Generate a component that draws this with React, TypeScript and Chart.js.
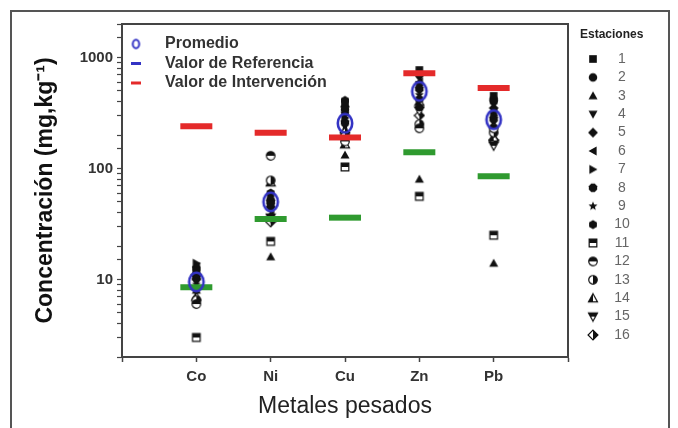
import React, { useEffect, useRef } from 'react';
import { Chart, registerables } from 'chart.js';
Chart.register(...registerables);

const metals = ['Co', 'Ni', 'Cu', 'Zn', 'Pb'];
const stations = ['1', '2', '3', '4', '5', '6', '7', '8', '9', '10', '11', '12', '13', '14', '15', '16'];
// values per station (1..16) for each metal
const coValues = [12, 11, 8, 9.5, 10, 13, 14, 10.5, 9, 12.5, 3, 6, 6.5, 7, 8, 11];
const niValues = [48, 52, 16, 42, 45, 38, 56, 50, 47, 60, 22, 130, 78, 75, 36, 33];
const cuValues = [390, 340, 132, 300, 360, 320, 285, 260, 240, 410, 103, 175, 195, 165, 185, 210];
const znValues = [770, 700, 80, 650, 360, 600, 560, 520, 460, 420, 56, 230, 250, 400, 330, 300];
const pbValues = [450, 420, 14, 380, 350, 320, 300, 280, 260, 400, 25, 230, 210, 190, 160, 180];
const promedio = [9.5, 50, 255, 495, 275];
const referencia = [8.5, 35, 36, 140, 85];
const intervencion = [240, 210, 190, 720, 530];
const yTickLabels = [10, 100, 1000];
const legendLabels = ['Promedio', 'Valor de Referencia', 'Valor de Intervención'];

const markerKinds = [
  'square', 'circle', 'triangle', 'triangleDown', 'diamond', 'triangleLeft', 'triangleRight', 'octagon',
  'star', 'hexagon', 'halfSquare', 'halfCircleTop', 'halfCircleRight', 'halfTriangle', 'halfTriangleDown', 'halfDiamond',
];

const FONT = '"Liberation Sans", Arial, Helvetica, sans-serif';
const BLUE = '#3333c4';
const RED = '#e42a2a';
const GREEN = '#2f9a2f';

function polygon(ctx: CanvasRenderingContext2D, c: number, r: number, n: number, start: number) {
  for (let i = 0; i < n; i++) {
    const a = start + (i * 2 * Math.PI) / n;
    const px = c + r * Math.cos(a);
    const py = c + r * Math.sin(a);
    if (i === 0) ctx.moveTo(px, py);
    else ctx.lineTo(px, py);
  }
  ctx.closePath();
}

function shapePath(ctx: CanvasRenderingContext2D, base: string, c: number, r: number) {
  ctx.beginPath();
  switch (base) {
    case 'square':
      ctx.rect(c - r * 0.85, c - r * 0.85, r * 1.7, r * 1.7);
      break;
    case 'circle':
      ctx.arc(c, c, r * 0.95, 0, Math.PI * 2);
      break;
    case 'triangle':
      ctx.moveTo(c, c - r);
      ctx.lineTo(c + r, c + r * 0.8);
      ctx.lineTo(c - r, c + r * 0.8);
      ctx.closePath();
      break;
    case 'triangleDown':
      ctx.moveTo(c, c + r);
      ctx.lineTo(c + r, c - r * 0.8);
      ctx.lineTo(c - r, c - r * 0.8);
      ctx.closePath();
      break;
    case 'triangleLeft':
      ctx.moveTo(c - r, c);
      ctx.lineTo(c + r * 0.8, c - r);
      ctx.lineTo(c + r * 0.8, c + r);
      ctx.closePath();
      break;
    case 'triangleRight':
      ctx.moveTo(c + r, c);
      ctx.lineTo(c - r * 0.8, c - r);
      ctx.lineTo(c - r * 0.8, c + r);
      ctx.closePath();
      break;
    case 'diamond':
      ctx.moveTo(c, c - r * 1.1);
      ctx.lineTo(c + r * 1.1, c);
      ctx.lineTo(c, c + r * 1.1);
      ctx.lineTo(c - r * 1.1, c);
      ctx.closePath();
      break;
    case 'octagon':
      polygon(ctx, c, r, 8, Math.PI / 8);
      break;
    case 'hexagon':
      polygon(ctx, c, r, 6, Math.PI / 6);
      break;
    case 'star': {
      for (let i = 0; i < 10; i++) {
        const a = -Math.PI / 2 + (i * Math.PI) / 5;
        const rr = i % 2 === 0 ? r * 1.05 : r * 0.45;
        const px = c + rr * Math.cos(a);
        const py = c + rr * Math.sin(a);
        if (i === 0) ctx.moveTo(px, py);
        else ctx.lineTo(px, py);
      }
      ctx.closePath();
      break;
    }
  }
}

function makeMarker(kind: string): HTMLCanvasElement {
  const S = 12;
  const c = S / 2;
  const r = 4.5;
  const cv = document.createElement('canvas');
  cv.width = S;
  cv.height = S;
  const ctx = cv.getContext('2d')!;
  const halfMap: Record<string, [string, string]> = {
    halfSquare: ['square', 'top'],
    halfCircleTop: ['circle', 'top'],
    halfCircleRight: ['circle', 'right'],
    halfTriangle: ['triangle', 'left'],
    halfTriangleDown: ['triangleDown', 'top'],
    halfDiamond: ['diamond', 'right'],
  };
  if (halfMap[kind]) {
    const [base, side] = halfMap[kind];
    shapePath(ctx, base, c, r);
    ctx.fillStyle = '#ffffff';
    ctx.fill();
    ctx.save();
    ctx.beginPath();
    if (side === 'top') ctx.rect(0, 0, S, c);
    else if (side === 'right') ctx.rect(c, 0, S, S);
    else ctx.rect(0, 0, c, S);
    ctx.clip();
    shapePath(ctx, base, c, r);
    ctx.fillStyle = '#111';
    ctx.fill();
    ctx.restore();
    shapePath(ctx, base, c, r);
    ctx.strokeStyle = '#111';
    ctx.lineWidth = 1.2;
    ctx.stroke();
  } else {
    shapePath(ctx, kind, c, r);
    ctx.fillStyle = '#111';
    ctx.fill();
  }
  return cv;
}

function makeRing(rx: number, ry: number, lw: number): HTMLCanvasElement {
  const cv = document.createElement('canvas');
  cv.width = Math.ceil(rx * 2 + lw * 2 + 2);
  cv.height = Math.ceil(ry * 2 + lw * 2 + 2);
  const ctx = cv.getContext('2d')!;
  ctx.beginPath();
  ctx.ellipse(cv.width / 2, cv.height / 2, rx, ry, 0, 0, Math.PI * 2);
  ctx.strokeStyle = BLUE;
  ctx.lineWidth = lw;
  ctx.stroke();
  return cv;
}

export default function App() {
  const ref = useRef<HTMLCanvasElement>(null);

  useEffect(() => {
    const canvas = ref.current;
    if (!canvas) return;
    const markers = markerKinds.map((k) => makeMarker(k));
    const bigRing = makeRing(7.2, 9.2, 2.6);
    const smallRing = makeRing(3.2, 4.2, 2);
    const valuesByMetal = [coValues, niValues, cuValues, znValues, pbValues];

    const stationSets = stations.map((s, si) => ({
      label: s,
      data: metals.map((m, mi) => ({ x: mi + 1, y: valuesByMetal[mi][si] })),
      pointStyle: markers[si],
      pointRadius: 4,
      showLine: false,
    }));

    const overlay = {
      id: 'overlay',
      beforeDraw(chart: any) {
        const ctx = chart.ctx as CanvasRenderingContext2D;
        ctx.save();
        ctx.fillStyle = '#ffffff';
        ctx.fillRect(0, 0, chart.width, chart.height);
        ctx.strokeStyle = '#555';
        ctx.lineWidth = 2;
        ctx.strokeRect(11, 11, 658, 440);
        ctx.restore();
      },
      afterDraw(chart: any) {
        const ctx = chart.ctx as CanvasRenderingContext2D;
        const a = chart.chartArea;
        ctx.save();
        // top and right frame of plot
        ctx.strokeStyle = '#444';
        ctx.lineWidth = 2;
        ctx.beginPath();
        ctx.moveTo(a.left, a.top);
        ctx.lineTo(a.right, a.top);
        ctx.lineTo(a.right, a.bottom);
        ctx.stroke();

        // top-left legend
        const lx = a.left + 14;
        const ly = a.top + 20;
        const gap = 19.5;
        ctx.drawImage(smallRing, lx - smallRing.width / 2, ly - smallRing.height / 2);
        ctx.lineWidth = 3;
        ctx.strokeStyle = BLUE;
        ctx.beginPath();
        ctx.moveTo(lx - 5, ly + gap);
        ctx.lineTo(lx + 5, ly + gap);
        ctx.stroke();
        ctx.strokeStyle = RED;
        ctx.beginPath();
        ctx.moveTo(lx - 5, ly + gap * 2);
        ctx.lineTo(lx + 5, ly + gap * 2);
        ctx.stroke();
        ctx.fillStyle = '#333';
        ctx.font = `bold 16px ${FONT}`;
        ctx.textAlign = 'left';
        ctx.textBaseline = 'middle';
        legendLabels.forEach((t, i) => ctx.fillText(t, lx + 29, ly + gap * i));

        // right legend
        const rx = a.right + 12;
        ctx.font = `bold 12px ${FONT}`;
        ctx.fillStyle = '#222';
        ctx.fillText('Estaciones', rx, a.top + 11);
        ctx.font = `14px ${FONT}`;
        ctx.fillStyle = '#666';
        ctx.textAlign = 'center';
        stations.forEach((s, i) => {
          const y = a.top + 35 + i * 18.4;
          const mk = markers[i];
          ctx.drawImage(mk, rx + 13 - mk.width / 2, y - mk.height / 2);
          ctx.fillText(s, rx + 42, y);
        });
        ctx.restore();
      },
    };

    const chart = new Chart(canvas, {
      type: 'scatter',
      data: {
        datasets: [
          {
            label: legendLabels[0],
            data: metals.map((m, i) => ({ x: i + 1, y: promedio[i] })),
            pointStyle: bigRing,
            pointRadius: 4,
          },
          {
            label: legendLabels[1],
            data: metals.map((m, i) => ({ x: i + 1, y: referencia[i] })),
            pointStyle: 'line',
            pointRadius: 16,
            pointBorderColor: GREEN,
            pointBorderWidth: 6,
          },
          {
            label: legendLabels[2],
            data: metals.map((m, i) => ({ x: i + 1, y: intervencion[i] })),
            pointStyle: 'line',
            pointRadius: 16,
            pointBorderColor: RED,
            pointBorderWidth: 6,
          },
          ...stationSets,
        ] as any,
      },
      options: {
        responsive: false,
        animation: false,
        devicePixelRatio: 1,
        layout: { padding: { left: 10, right: 110, top: 24, bottom: 0 } },
        plugins: { legend: { display: false }, tooltip: { enabled: false } },
        scales: {
          x: {
            type: 'linear',
            min: 0,
            max: 6,
            afterBuildTicks: (s: any) => {
              s.ticks = [0, 1, 2, 3, 4, 5, 6].map((v) => ({ value: v }));
            },
            afterFit: (s: any) => {
              s.height = 71;
            },
            ticks: {
              autoSkip: false,
              maxRotation: 0,
              padding: 6,
              color: '#333',
              font: { family: FONT, size: 15, weight: 'bold' },
              callback: (v: any) => metals[Math.round(v) - 1] ?? '',
            },
            grid: { drawOnChartArea: false, tickLength: 5, color: '#444', tickWidth: 1.5 },
            border: { color: '#444', width: 2 },
            title: {
              display: true,
              text: 'Metales pesados',
              color: '#222',
              font: { family: FONT, size: 23, weight: 'normal' },
              padding: { top: 0, bottom: 8 },
            },
          },
          y: {
            type: 'logarithmic',
            min: 2,
            max: 2000,
            afterFit: (s: any) => {
              s.width = 112;
            },
            ticks: {
              autoSkip: false,
              padding: 4,
              color: '#333',
              font: { family: FONT, size: 15, weight: 'bold' },
              callback: (v: any) => {
                const n = Number(v);
                return yTickLabels.some((t) => Math.abs(t - n) < 1e-6) ? String(n) : '';
              },
            },
            grid: { drawOnChartArea: false, tickLength: 5, color: '#444', tickWidth: 1.2 },
            border: { color: '#444', width: 2 },
            title: {
              display: true,
              text: 'Concentración (mg,kg⁻¹)',
              color: '#111',
              font: { family: FONT, size: 23, weight: 'bold' },
              padding: { top: 22, bottom: 0 },
            },
          },
        },
      },
      plugins: [overlay],
    });
    return () => chart.destroy();
  }, []);

  return (
    <div style={{ position: 'fixed', left: 0, top: 0, width: 678, height: 428, background: '#fff' }}>
      <canvas ref={ref} width={678} height={428} style={{ display: 'block' }} />
    </div>
  );
}
